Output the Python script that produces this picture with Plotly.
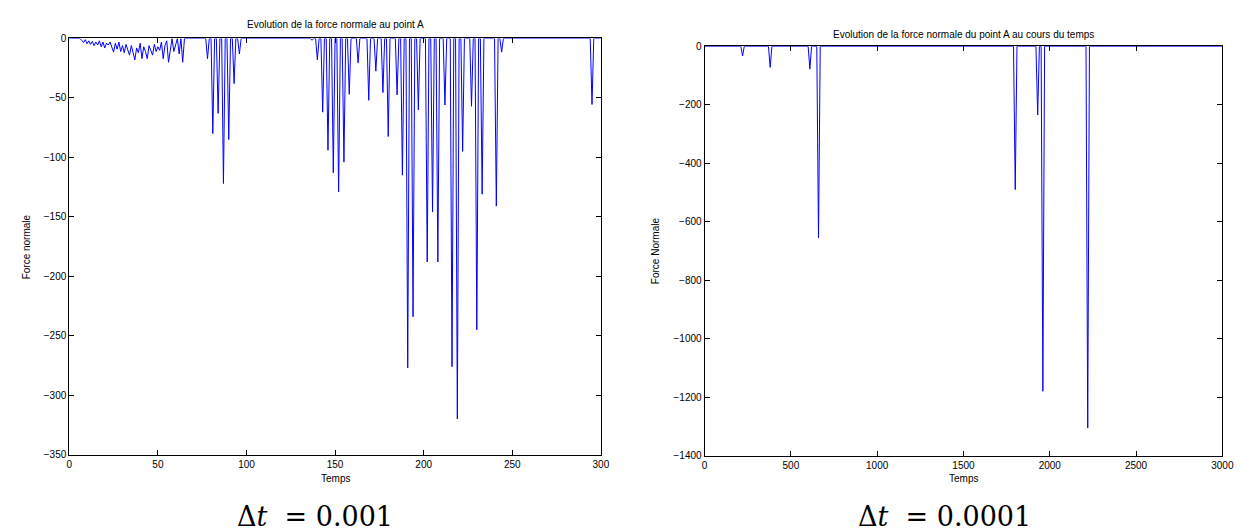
import plotly.graph_objects as go

# ---------------- data ----------------
# Left panel (dt = 0.001): samples every 1 time unit from 0 to 300
left_t_max = 300
left_noise_start = 7
left_noise = [-1.5, -3.5, -1, -4.5, -2, -5, -2.5, -6, -3, -5.5, -2, -7, -3, -8, -4,
              -5.5, -3, -8, -11.5, -4, -9, -3, -11, -6, -12, -5, -9, -14, -6, -13,
              -18, -8, -12, -4, -17, -7, -11, -17, -6, -10, -14, -5, -11, -7, -10,
              -3, -17, -6, -2, -20, -8, 0, -11, -4, 0, -13, 0, -20, 0]
left_spike_t = [78, 81, 84, 87, 90, 93, 96,
                137, 140, 143, 146, 149, 152, 155, 158,
                163, 169, 173, 177, 180, 185, 188, 191, 194, 197,
                202, 205, 208, 212, 216, 219, 222, 227, 230, 233,
                241, 244, 295]
left_spike_f = [-17, -80, -63, -122, -85, -38, -13,
                -1.5, -18, -62, -94, -113, -129, -104, -47,
                -20.5, -52, -27.5, -45.5, -82.5, -47.5, -115, -277, -234, -60,
                -188, -146, -188, -56, -276, -320, -95, -57, -245, -131,
                -141, -11.5, -55.5]

# Right panel (dt = 0.0001): samples every 10 time units from 0 to 3000
right_t_max = 3000
right_step = 10
right_spike_t = [220, 380, 610, 660, 1800, 1930, 1960, 2220]
right_spike_f = [-33, -72, -78, -655, -490, -235, -1180, -1305]

left_title = "Evolution de la force normale au point A"
right_title = "Evolution de la force normale du point A au cours du temps"
left_ylabel = "Force normale"
right_ylabel = "Force Normale"
xlabel = "Temps"
left_caption = "Δ<i>t</i>&nbsp;&nbsp;= 0.001"
right_caption = "Δ<i>t</i>&nbsp;&nbsp;= 0.0001"

# ---------------- build series ----------------
left_x = list(range(0, left_t_max + 1))
left_y = [0.0] * len(left_x)
for i, v in enumerate(left_noise):
    left_y[left_noise_start + i] = v
for t, f in zip(left_spike_t, left_spike_f):
    left_y[t] = f

right_x = list(range(0, right_t_max + 1, right_step))
right_y = [0.0] * len(right_x)
for t, f in zip(right_spike_t, right_spike_f):
    right_y[t // right_step] = f

# ---------------- figure ----------------
W, H = 1254, 530
L_x0, L_x1, L_y0, L_y1 = 59, 597, 26, 451
R_x0, R_x1, R_y0, R_y1 = 702, 1226, 34, 452

def px(x):
    return x / W

def py(y):
    return 1 - y / H

FONT = "Liberation Sans, Arial, Helvetica, sans-serif"
SERIF = "DejaVu Serif, Liberation Serif, serif"

fig = go.Figure()
fig.add_trace(go.Scatter(x=left_x, y=left_y, mode="lines",
                         line=dict(color="#0000ff", width=1),
                         xaxis="x", yaxis="y", showlegend=False))
fig.add_trace(go.Scatter(x=right_x, y=right_y, mode="lines",
                         line=dict(color="#0000ff", width=1),
                         xaxis="x2", yaxis="y2", showlegend=False))

axis_common = dict(showline=True, linecolor="black", linewidth=1, mirror="ticks",
                   ticks="inside", ticklen=5, tickcolor="black", showgrid=False,
                   zeroline=False, tickfont=dict(family=FONT, size=10, color="black"))

fig.update_layout(
    width=W, height=H,
    margin=dict(l=0, r=0, t=0, b=0),
    paper_bgcolor="white", plot_bgcolor="white",
    xaxis=dict(domain=[px(L_x0), px(L_x1)], range=[0, 300], dtick=50,
               anchor="y", **axis_common),
    yaxis=dict(domain=[py(L_y1), py(L_y0)], range=[-350, 0], dtick=50,
               anchor="x", **axis_common),
    xaxis2=dict(domain=[px(R_x0), px(R_x1)], range=[0, 3000], dtick=500,
                anchor="y2", **axis_common),
    yaxis2=dict(domain=[py(R_y1), py(R_y0)], range=[-1400, 0], dtick=200,
                anchor="x2", **axis_common),
)

ann_font = dict(family=FONT, size=10, color="black")
anns = [
    dict(text=left_title, x=px((L_x0 + L_x1) / 2), y=py(12)),
    dict(text=right_title, x=px((R_x0 + R_x1) / 2), y=py(22)),
    dict(text=xlabel, x=px((L_x0 + L_x1) / 2), y=py(475)),
    dict(text=xlabel, x=px((R_x0 + R_x1) / 2), y=py(475)),
    dict(text=left_ylabel, x=px(16), y=py((L_y0 + L_y1) / 2), textangle=-90),
    dict(text=right_ylabel, x=px(653), y=py((R_y0 + R_y1) / 2), textangle=-90),
]
for a in anns:
    fig.add_annotation(xref="paper", yref="paper", showarrow=False,
                       xanchor="center", yanchor="middle", font=ann_font, **a)

cap_font = dict(family=SERIF, size=27, color="black")
fig.add_annotation(text=left_caption, x=px(308), y=py(514), xref="paper", yref="paper",
                   showarrow=False, xanchor="center", yanchor="middle", font=cap_font)
fig.add_annotation(text=right_caption, x=px(945), y=py(514), xref="paper", yref="paper",
                   showarrow=False, xanchor="center", yanchor="middle", font=cap_font)

fig.write_html("out.html")
